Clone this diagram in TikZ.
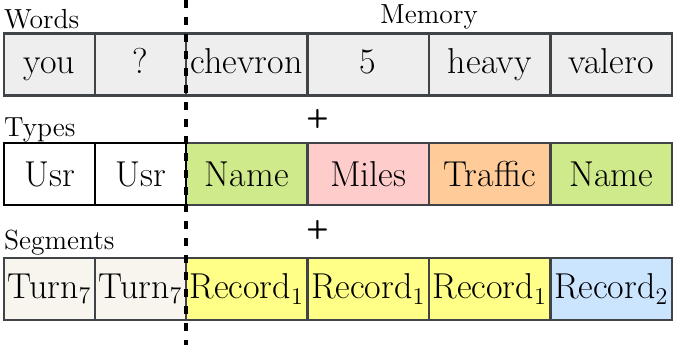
\documentclass[tikz,border=0pt]{standalone}
\usepackage{tikz}
\usetikzlibrary{positioning,calc}
\definecolor{wordgray}{HTML}{EEEEEE}
\definecolor{cellline}{HTML}{404448}
\definecolor{namegreen}{HTML}{CFEA8A}
\definecolor{milespink}{HTML}{FFCCCC}
\definecolor{trafficorange}{HTML}{FFCC99}
\definecolor{recyellow}{HTML}{FFFF88}
\definecolor{recblue}{HTML}{CCE5FF}
\definecolor{turnbeige}{HTML}{F8F5EE}

\begin{document}
\begin{tikzpicture}[
    cell/.style={draw=cellline, line width=1.3pt, fill=#1,
                 minimum width=60.75pt, minimum height=31pt,
                 inner sep=0pt, outer sep=0pt,
                 font=\fontsize{18}{21}\selectfont},
    narrow/.style={cell=#1, minimum width=45.5pt},
    wordcell/.style={text height=12pt, text depth=3.5pt},
    usrcell/.style={narrow=white, draw=black},
    lbl/.style={inner sep=0pt, outer sep=0pt,
                font=\fontsize{13.8}{16}\selectfont},
    plus/.style={inner sep=0pt, font=\fontsize{13}{15}\selectfont\sffamily\bfseries},
    divider/.style={line width=1.6pt, dash pattern=on 4pt off 4.5pt},
    node distance=0pt
  ]
    \useasboundingbox (0,0) rectangle (338.5pt,-172.5pt);

    % Words
    \node[narrow=wordgray, wordcell, anchor=west] (w1) at (2pt,-32.25pt) {you};
    \node[narrow=wordgray, wordcell, right=of w1] (w2) {?};
    \node[cell=wordgray, wordcell, right=of w2]   (w3) {chevron};
    \node[cell=wordgray, wordcell, right=of w3]   (w4) {5};
    \node[cell=wordgray, wordcell, right=of w4]   (w5) {heavy};
    \node[cell=wordgray, wordcell, right=of w5]   (w6) {valero};

    % Types
    \node[usrcell, anchor=west] (t1) at (2pt,-87pt) {Usr};
    \node[usrcell, right=of t1]          (t2) {Usr};
    \node[cell=namegreen, right=of t2]   (t3) {Name};
    \node[cell=milespink, right=of t3]   (t4) {Miles};
    \node[cell=trafficorange, right=of t4] (t5) {Traffic};
    \node[cell=namegreen, right=of t5]   (t6) {Name};
    \draw[black, line width=1.3pt] (t1.north west) rectangle (t2.south east);

    % Segments
    \node[narrow=turnbeige, anchor=west] (s1) at (2pt,-144.5pt) {Turn$_7$};
    \node[narrow=turnbeige, right=of s1] (s2) {Turn$_7$};
    \node[cell=recyellow, right=of s2]   (s3) {Record$_1$};
    \node[cell=recyellow, right=of s3]   (s4) {Record$_1$};
    \node[cell=recyellow, right=of s4]   (s5) {Record$_1$};
    \node[cell=recblue, right=of s5]     (s6) {Record$_2$};

    % Labels
    \node[lbl, anchor=base west] (wlbl) at ([yshift=2.4pt]w1.north west) {Words};
    \node[lbl, anchor=base] (mlbl) at ([yshift=5pt]w4.north east) {Memory};
    \node[lbl, anchor=base west] (tlbl) at ([yshift=3.2pt]t1.north west) {Types};
    \node[lbl, anchor=base west] (slbl) at ([yshift=4.5pt]s1.north west) {Segments};

    % Plus signs
    \node[plus] (p1) at ($(w4.south west)!0.5!(t4.north west)+(5pt,0)$) {+};
    \node[plus] (p2) at ($(t4.south west)!0.5!(s4.north west)+(5pt,1pt)$) {+};

    % Divider
    \coordinate (dtop) at (w3.west |- 0,0);
    \coordinate (dbot) at (w3.west |- 0,-172.5pt);
    \draw[divider] (dtop) -- (dbot);
\end{tikzpicture}
\end{document}
